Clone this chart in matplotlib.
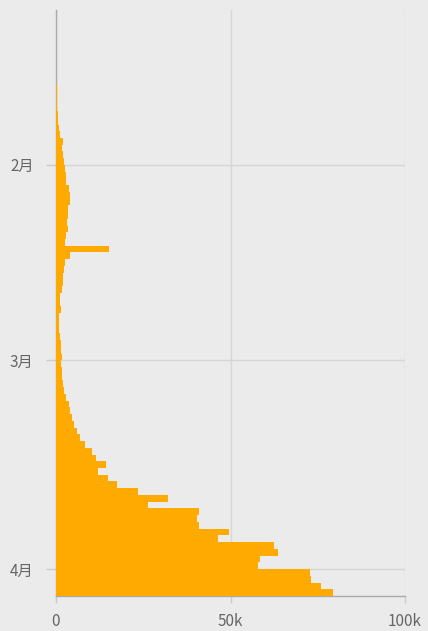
import matplotlib
matplotlib.use("Agg")
import matplotlib.pyplot as plt
import matplotlib.dates as mdates
import pandas as pd

plt.rcParams['font.family'] = ['Noto Sans CJK SC', 'DejaVu Sans']

# daily values, Jan 9 2020 .. Apr 4 2020
dates = pd.date_range('2020-01-09', '2020-04-04', freq='D')
jan = [40, 10, 20, 10, 10, 20, 30, 20, 60, 80, 140, 150, 170, 200, 300,
       550, 700, 900, 1200, 1900, 1800, 2100, 2300]
feb = [2600, 3000, 3000, 3600, 4000, 4000, 3500, 3300, 3200, 3400, 3000,
       2600, 15200, 4000, 2600, 2300, 2100, 1900, 1700, 1100, 1100, 1300,
       900, 900, 1000, 1200, 1300, 1400, 1600]
mar = [1500, 1700, 1800, 2000, 2200, 3000, 3600, 4000, 4500, 5200,
       6000, 6900, 8300, 10200, 11600, 14300, 12100, 15000, 17400, 23600,
       32000, 26500, 41000, 40300, 41000, 49700, 46500, 62500, 63500, 58500, 58000]
apr = [72800, 73000, 76000, 79400]
values = jan + feb + mar + apr

month_ticks = pd.to_datetime(['2020-02-01', '2020-03-01', '2020-04-01'])
month_labels = ['2月', '3月', '4月']
x_ticks = [0, 50000, 100000]
x_labels = ['0', '50k', '100k']

bg = '#ebebeb'
fig = plt.figure(figsize=(4.28, 6.31), dpi=100, facecolor=bg)
ax = fig.add_axes([56/428, 1 - 596/631, (405 - 56)/428, (596 - 10)/631])
ax.set_facecolor(bg)

ax.barh(mdates.date2num(dates), values, height=1.0, align='edge',
        color='#ffaa00', linewidth=0, zorder=2)

ax.set_ylim(mdates.date2num(pd.Timestamp('2020-04-05')),
            mdates.date2num(pd.Timestamp('2020-01-09')))
ax.set_xlim(0, 100000)

ax.set_yticks(mdates.date2num(month_ticks))
ax.set_yticklabels(month_labels)
ax.set_xticks(x_ticks)
ax.set_xticklabels(x_labels)

ax.grid(True, color='#d6d6d6', linewidth=1, zorder=0)
ax.set_axisbelow(True)

for s in ['top', 'right']:
    ax.spines[s].set_visible(False)
for s in ['left', 'bottom']:
    ax.spines[s].set_color('#aaaaaa')
    ax.spines[s].set_linewidth(1)
    ax.spines[s].set_zorder(1)

ax.tick_params(axis='y', length=7, width=1, color='#cccccc', pad=9,
               labelsize=11, labelcolor='#666666')
ax.tick_params(axis='x', length=5, width=1, color='#cccccc', pad=7,
               labelsize=11, labelcolor='#666666')

fig.savefig('out.png', dpi=100, facecolor=bg)
